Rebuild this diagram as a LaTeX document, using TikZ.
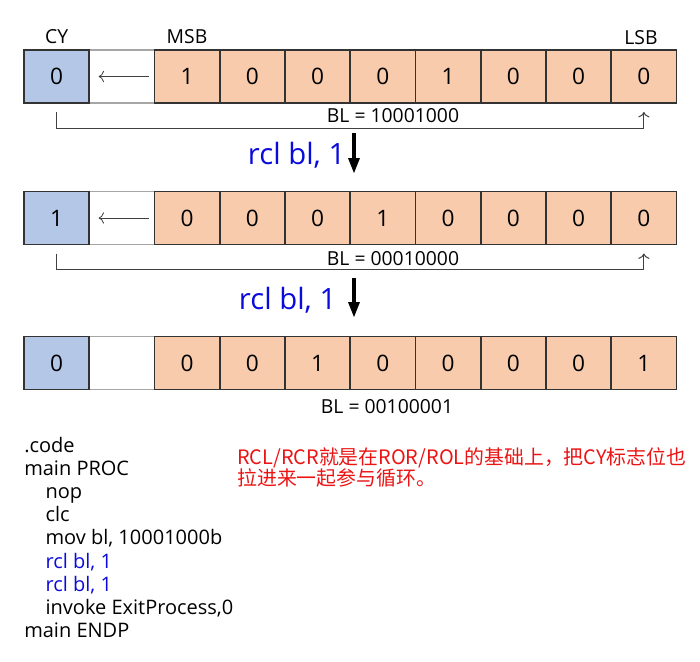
\documentclass[tikz,border=0pt]{standalone}
\usepackage{fontspec}
\setmainfont{Open Sans}
\newfontfamily\cjk{Noto Sans CJK SC}
\usepackage{xcolor}
\usepackage{tikz}
\usetikzlibrary{arrows.meta,positioning}
\definecolor{cyblue}{RGB}{180,199,231}
\definecolor{bitorange}{RGB}{248,203,173}
\definecolor{opblue}{RGB}{10,10,220}
\definecolor{notered}{RGB}{235,20,20}

\begin{document}
\begin{tikzpicture}[
  x=0.75pt, y=-0.75pt,
  cell/.style={draw=black!80, line width=1.1pt, minimum width=48.9pt, minimum height=39.75pt, inner sep=0pt, outer sep=0pt, font=\fontsize{17}{20}\selectfont},
  cybox/.style={cell, fill=cyblue},
  bitbox/.style={cell, fill=bitorange},
  gapbox/.style={cell, draw=black!35, fill=white},
  tagtext/.style={font=\fontsize{14.5}{17}\selectfont},
  inarr/.style={-{To[length=4pt]}, black!75, line width=0.6pt},
  looparr/.style={-{To[length=4pt]}, black!75, line width=0.75pt},
  steparr/.style={-{Triangle[length=12pt,width=8pt]}, line width=3pt},
  oplabel/.style={anchor=east, text=opblue, font=\fontsize{22}{26}\selectfont}
]
\useasboundingbox (0,0) rectangle (700,661);

% row 1: before
\node[tagtext] (cytag) at (56.6,37) {CY};
\node[tagtext] (msb) at (187,37) {MSB};
\node[tagtext] (lsb) at (641,38) {LSB};
\node[gapbox] (g1) at (121.9,76.5) {};
\node[cybox] (cy1) at (56.6,76.5) {0};
\foreach \b [count=\i] in {1,0,0,0,1,0,0,0}
  \node[bitbox] (a\i) at ({154.5+65.25*(\i-0.5)},76.5) {\b};
\draw[inarr] ([xshift=-4.5pt]g1.east) -- ([xshift=7pt]g1.west);
\draw[looparr] ([yshift=-6.75pt]cy1.south) -- ++(0,16) -| ([yshift=-6.75pt]a8.south);
\node[tagtext] (bl1) at (393,116) {BL = 10001000};

% first rcl
\coordinate (d1s) at (354,133);
\coordinate (d1e) at (354,174);
\draw[steparr] (d1s) -- (d1e);
\node[oplabel] (op1) at (350,155) {rcl bl, 1};

% row 2
\node[gapbox] (g2) at (121.9,218) {};
\node[cybox] (cy2) at (56.6,218) {1};
\foreach \b [count=\i] in {0,0,0,1,0,0,0,0}
  \node[bitbox] (b\i) at ({154.5+65.25*(\i-0.5)},218) {\b};
\draw[inarr] ([xshift=-4.5pt]g2.east) -- ([xshift=7pt]g2.west);
\draw[looparr] ([yshift=-6.75pt]cy2.south) -- ++(0,16) -| ([yshift=-6.75pt]b8.south);
\node[tagtext] (bl2) at (393,259) {BL = 00010000};

% second rcl
\coordinate (d2s) at (354,278);
\coordinate (d2e) at (354,318);
\draw[steparr] (d2s) -- (d2e);
\node[oplabel] (op2) at (341,300) {rcl bl, 1};

% row 3: after
\node[gapbox] (g3) at (121.9,363) {};
\node[cybox] (cy3) at (56.6,363) {0};
\foreach \b [count=\i] in {0,0,1,0,0,0,0,1}
  \node[bitbox] (c\i) at ({154.5+65.25*(\i-0.5)},363) {\b};
\node[tagtext] (bl3) at (387,407) {BL = 00100001};

% code and note (base = last line)
\node[anchor=base west, align=left, inner sep=0pt, font=\fontsize{15}{17.4}\selectfont] (code) at (24,637.6)
  {.code\\main PROC\\\hspace*{16pt}nop\\\hspace*{16pt}clc\\\hspace*{16pt}mov bl, 10001000b\\
   \hspace*{16pt}\textcolor{opblue}{rcl bl, 1}\\\hspace*{16pt}\textcolor{opblue}{rcl bl, 1}\\
   \hspace*{16pt}invoke ExitProcess,0\\main ENDP};
\node[anchor=base west, align=left, inner sep=0pt, text=notered, font=\cjk\fontsize{14.9}{15.75}\selectfont] (note) at (237,485)
  {RCL/RCR就是在ROR/ROL的基础上，把CY标志位也\\拉进来一起参与循环。};
\end{tikzpicture}
\end{document}
